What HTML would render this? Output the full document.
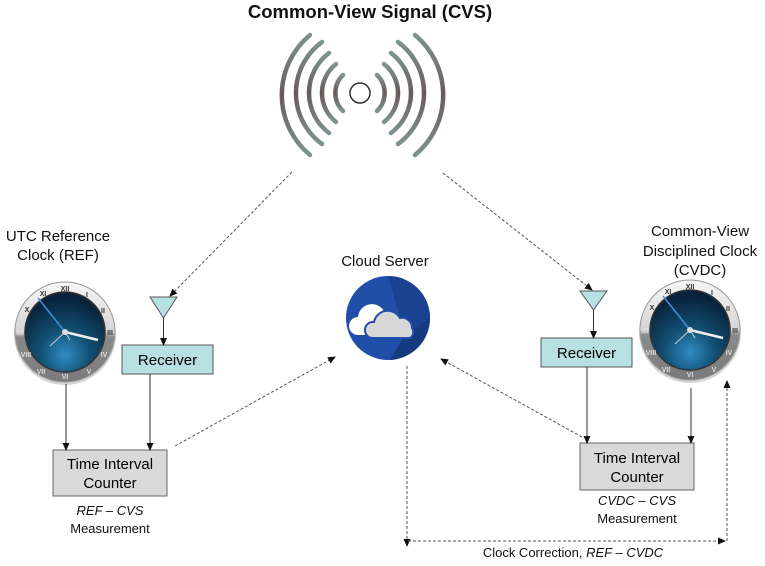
<!DOCTYPE html>
<html><head><meta charset="utf-8"><style>
html,body{margin:0;padding:0;background:#fff;}
svg{display:block;}
text{font-family:"Liberation Sans",sans-serif;}
</style></head><body>
<svg width="765" height="566" viewBox="0 0 765 566" xmlns="http://www.w3.org/2000/svg">
<defs>
<marker id="ah" markerWidth="8" markerHeight="8" refX="7" refY="4" orient="auto" markerUnits="userSpaceOnUse">
<path d="M0,0.5 L8,4 L0,7.5 Z" fill="#111"/></marker>
<radialGradient id="face" cx="50%" cy="78%" r="70%">
<stop offset="0" stop-color="#2f8cc4"/><stop offset="0.45" stop-color="#124f72"/><stop offset="1" stop-color="#08223a"/></radialGradient>
<linearGradient id="bez" x1="0" y1="0" x2="0" y2="1">
<stop offset="0" stop-color="#f6f6f6"/><stop offset="0.5" stop-color="#d5d5d5"/><stop offset="0.55" stop-color="#8a8a8a"/><stop offset="1" stop-color="#7a7a7a"/></linearGradient>
<linearGradient id="arc" x1="0" y1="0" x2="0" y2="1">
<stop offset="0" stop-color="#7f9392"/><stop offset="0.5" stop-color="#6a5a5a"/><stop offset="1" stop-color="#7f9392"/></linearGradient>
<g id="clock">
<circle r="51" fill="#555" opacity="0.25" cy="2"/>
<circle r="50" fill="url(#bez)" stroke="#999" stroke-width="1"/>
<circle r="40" fill="url(#face)" stroke="#333" stroke-width="1.5"/>
<g font-family="Liberation Serif,serif" font-size="7" font-weight="bold" fill="#333" text-anchor="middle">
<text x="0" y="-41">XII</text><text x="22" y="-35">I</text><text x="38" y="-19">II</text>
<text x="45" y="3">III</text><text x="-45" y="3" fill="#ddd">XI</text><text x="-22" y="-36">XI</text><text x="-38" y="-20">X</text>
<text x="0" y="47" fill="#ddd">VI</text><text x="24" y="42" fill="#ddd">V</text><text x="-24" y="42" fill="#ddd">VII</text><text x="39" y="25" fill="#ddd">IV</text><text x="-39" y="25" fill="#ddd">VIII</text>
</g>
<line x1="0" y1="0" x2="-27" y2="-34" stroke="#3f8fe0" stroke-width="1.5"/>
<line x1="0" y1="0" x2="33" y2="8" stroke="#eee" stroke-width="2.5"/>
<line x1="0" y1="0" x2="-15" y2="14" stroke="#ccc" stroke-width="1"/>
<line x1="0" y1="0" x2="5" y2="8" stroke="#ccc" stroke-width="1"/>
<circle r="3" fill="#ddd"/>
</g>
</defs>

<text x="370" y="18" font-size="18.5" font-weight="bold" text-anchor="middle" fill="#111">Common-View Signal (CVS)</text>

<!-- signal -->
<g fill="none" stroke-linecap="round" stroke-width="4.5">
<circle cx="360" cy="93" r="10" stroke="#333" stroke-width="1.5"/>
<g stroke="url(#arc)">
<path d="M343,75 A25,25 0 0 0 343,111"/><path d="M377,75 A25,25 0 0 1 377,111"/>
<path d="M336,64 A37,37 0 0 0 336,122"/><path d="M384,64 A37,37 0 0 1 384,122"/>
<path d="M329,53 A50,50 0 0 0 329,133"/><path d="M391,53 A50,50 0 0 1 391,133"/>
<path d="M322,42 A63,63 0 0 0 322,144"/><path d="M398,42 A63,63 0 0 1 398,144"/>
<path d="M310,35 A78,78 0 0 0 310,155"/><path d="M415,35 A78,78 0 0 1 415,155"/>
</g></g>

<g font-size="15" fill="#111" text-anchor="middle">
<text x="58" y="241">UTC Reference</text><text x="58" y="260">Clock (REF)</text>
<text x="385" y="266">Cloud Server</text>
<text x="700" y="236">Common-View</text><text x="700" y="256">Disciplined Clock</text><text x="700" y="275">(CVDC)</text>
</g>

<use href="#clock" x="65" y="332"/>
<use href="#clock" x="690" y="330"/>

<!-- cloud icon -->
<circle cx="388" cy="318" r="42" fill="#1f4fa8"/>
<path d="M388,276 A42,42 0 0 1 430,318 L405,335 Z" fill="#1a4290"/>
<path d="M405,335 L430,318 A42,42 0 0 1 390,360 Z" fill="#163a80"/>
<path d="M358,335 a9,9 0 0 1 0,-18 a14,14 0 0 1 26,-6 a11,11 0 0 1 14,8 a8,8 0 0 1 0,16 Z" fill="#fff"/>
<path d="M372,338 a8,8 0 0 1 2,-16 a14,14 0 0 1 26,-4 a10,10 0 0 1 12,10 a7,7 0 0 1 -2,10 Z" fill="#d8d8d8" stroke="#1f4fa8" stroke-width="2"/>

<!-- antennas -->
<path d="M150,297 L177,297 L163.5,318 Z" fill="#b7e0e3" stroke="#555"/>
<path d="M580,291 L607,291 L593.5,310 Z" fill="#b7e0e3" stroke="#555"/>

<!-- boxes -->
<rect x="122" y="345" width="91" height="29" fill="#b7e0e3" stroke="#555"/>
<text x="167.5" y="365" font-size="15" text-anchor="middle">Receiver</text>
<rect x="541" y="338" width="91" height="29" fill="#b7e0e3" stroke="#555"/>
<text x="586.5" y="358" font-size="15" text-anchor="middle">Receiver</text>
<rect x="53" y="450" width="114" height="46" fill="#d9d9d9" stroke="#666"/>
<text x="110" y="469" font-size="15" text-anchor="middle">Time Interval</text>
<text x="110" y="488" font-size="15" text-anchor="middle">Counter</text>
<rect x="580" y="443" width="114" height="47" fill="#d9d9d9" stroke="#666"/>
<text x="637" y="463" font-size="15" text-anchor="middle">Time Interval</text>
<text x="637" y="482" font-size="15" text-anchor="middle">Counter</text>

<g font-size="13" text-anchor="middle" fill="#111">
<text x="110" y="515" font-style="italic">REF – CVS</text><text x="110" y="533">Measurement</text>
<text x="637" y="505" font-style="italic">CVDC – CVS</text><text x="637" y="523">Measurement</text>
<text x="573" y="557">Clock Correction, <tspan font-style="italic">REF – CVDC</tspan></text>
</g>

<!-- solid arrows -->
<g stroke="#333" stroke-width="1" marker-end="url(#ah)">
<line x1="163.5" y1="318" x2="163.5" y2="345"/>
<line x1="150" y1="374" x2="150" y2="450"/>
<line x1="66" y1="384" x2="66" y2="450"/>
<line x1="593.5" y1="310" x2="593.5" y2="338"/>
<line x1="587" y1="367" x2="587" y2="443"/>
<line x1="691" y1="388" x2="691" y2="443"/>
</g>

<!-- dashed -->
<g stroke="#555" stroke-width="1" stroke-dasharray="3,2" fill="none">
<line x1="292" y1="172" x2="170" y2="296" marker-end="url(#ah)"/>
<line x1="443" y1="173" x2="592" y2="290" marker-end="url(#ah)"/>
<line x1="175" y1="446" x2="335" y2="357" marker-end="url(#ah)"/>
<line x1="582" y1="437" x2="441" y2="359" marker-end="url(#ah)"/>
<polyline points="407,366 407,546" marker-end="url(#ah)"/>
<line x1="408" y1="541" x2="725" y2="541" marker-end="url(#ah)"/>
<line x1="727" y1="541" x2="727" y2="381" marker-end="url(#ah)"/>
</g>
</svg>
</body></html>
